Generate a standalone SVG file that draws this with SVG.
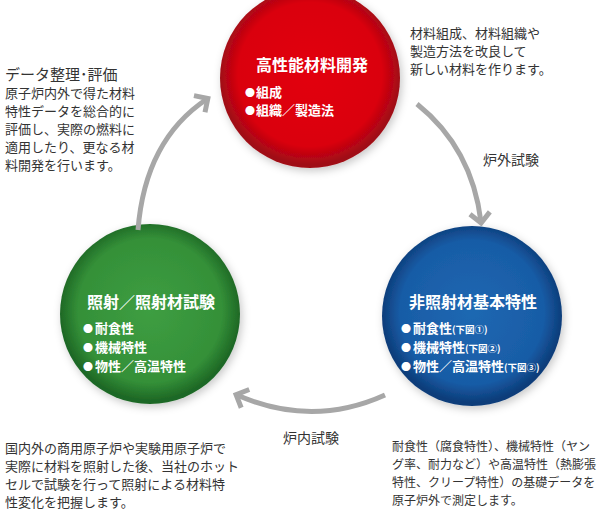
<svg xmlns="http://www.w3.org/2000/svg" width="600" height="510" viewBox="0 0 600 510">
<defs>
<radialGradient id="gRed" cx="50%" cy="48%" r="50%">
<stop offset="0" stop-color="#e2000f"/><stop offset="0.8" stop-color="#da000f"/><stop offset="1" stop-color="#a00a14"/>
</radialGradient>
<radialGradient id="gGreen" cx="50%" cy="48%" r="50%">
<stop offset="0" stop-color="#3e9e42"/><stop offset="0.8" stop-color="#349038"/><stop offset="1" stop-color="#1e6825"/>
</radialGradient>
<radialGradient id="gBlue" cx="50%" cy="48%" r="50%">
<stop offset="0" stop-color="#1f68b2"/><stop offset="0.8" stop-color="#185ca6"/><stop offset="1" stop-color="#0d3d7a"/>
</radialGradient>
<filter id="sh" x="-20%" y="-20%" width="140%" height="140%">
<feDropShadow dx="2" dy="3" stdDeviation="4" flood-color="#000" flood-opacity="0.22"/>
</filter>
<marker id="ah" viewBox="-15 -15 30 30" refX="-2" refY="0" markerWidth="30" markerHeight="30" markerUnits="userSpaceOnUse" orient="auto">
<path d="M-11,-10 L-1,0 L-11,10" fill="none" stroke="#a7a7a7" stroke-width="5"/>
</marker>
</defs>
<style>
text{font-family:"Noto Sans CJK JP","Noto Sans",sans-serif}
.t{fill:#333;font-size:13px}
.t2{fill:#333;font-size:12px}
.h{fill:#333;font-size:15px}
.lb{fill:#333;font-size:14px}
.ct{fill:#fff;font-weight:bold;font-size:16px}
.cb{fill:#fff;font-weight:bold;font-size:13px}
.bu{font-size:10px}
.cs{font-size:9.5px}
.arr{fill:none;stroke:#a7a7a7;stroke-width:5;marker-end:url(#ah)}
</style>
<g id="node-red">
<circle cx="310" cy="78" r="90" fill="url(#gRed)" filter="url(#sh)"/>
<text class="ct" x="256" y="71">高性能材料開発</text>
<text class="cb" x="245" y="97"><tspan class="bu">●</tspan><tspan x="256">組成</tspan></text>
<text class="cb" x="245" y="115"><tspan class="bu">●</tspan><tspan x="256">組織／製造法</tspan></text>
</g>
<g id="node-blue">
<circle cx="472" cy="316" r="90" fill="url(#gBlue)" filter="url(#sh)"/>
<text class="ct" x="409" y="308">非照射材基本特性</text>
<text class="cb" x="401" y="333"><tspan class="bu">●</tspan><tspan x="413">耐食性</tspan><tspan class="cs">(下図①)</tspan></text>
<text class="cb" x="401" y="352"><tspan class="bu">●</tspan><tspan x="413">機械特性</tspan><tspan class="cs">(下図②)</tspan></text>
<text class="cb" x="401" y="371"><tspan class="bu">●</tspan><tspan x="413">物性／高温特性</tspan><tspan class="cs">(下図③)</tspan></text>
</g>
<g id="node-green">
<circle cx="150" cy="314" r="90" fill="url(#gGreen)" filter="url(#sh)"/>
<text class="ct" x="87" y="308">照射／照射材試験</text>
<text class="cb" x="83" y="333"><tspan class="bu">●</tspan><tspan x="95">耐食性</tspan></text>
<text class="cb" x="83" y="352"><tspan class="bu">●</tspan><tspan x="95">機械特性</tspan></text>
<text class="cb" x="83" y="371"><tspan class="bu">●</tspan><tspan x="95">物性／高温特性</tspan></text>
</g>
<g id="connectors">
<path class="arr" d="M417,104 Q472,148 481,222"/>
<path class="arr" d="M385,395 Q312,428 237,395"/>
<path class="arr" d="M138,230 Q145,140 207,99"/>
<text class="lb" x="483" y="165">炉外試験</text>
<text class="lb" x="283" y="443">炉内試験</text>
</g>
<g id="note-topleft">
<text class="h" x="5" y="80">データ整理･評価</text>
<text class="t" x="5" y="98">原子炉内外で得た材料</text>
<text class="t" x="5" y="116">特性データを総合的に</text>
<text class="t" x="5" y="134">評価し、実際の燃料に</text>
<text class="t" x="5" y="152">適用したり、更なる材</text>
<text class="t" x="5" y="170">料開発を行います。</text>
</g>
<g id="note-topright">
<text class="t" x="410" y="38">材料組成、材料組織や</text>
<text class="t" x="410" y="56">製造方法を改良して</text>
<text class="t" x="410" y="74">新しい材料を作ります。</text>
</g>
<g id="note-bottomleft">
<text class="t" x="5" y="453">国内外の商用原子炉や実験用原子炉で</text>
<text class="t" x="5" y="471">実際に材料を照射した後、当社のホット</text>
<text class="t" x="5" y="489">セルで試験を行って照射による材料特</text>
<text class="t" x="5" y="507">性変化を把握します。</text>
</g>
<g id="note-bottomright">
<text class="t2" x="392" y="451">耐食性（腐食特性）、機械特性（ヤン</text>
<text class="t2" x="392" y="469">グ率、耐力など）や高温特性（熱膨張</text>
<text class="t2" x="392" y="487">特性、クリープ特性）の基礎データを</text>
<text class="t2" x="392" y="505">原子炉外で測定します。</text>
</g>
</svg>
